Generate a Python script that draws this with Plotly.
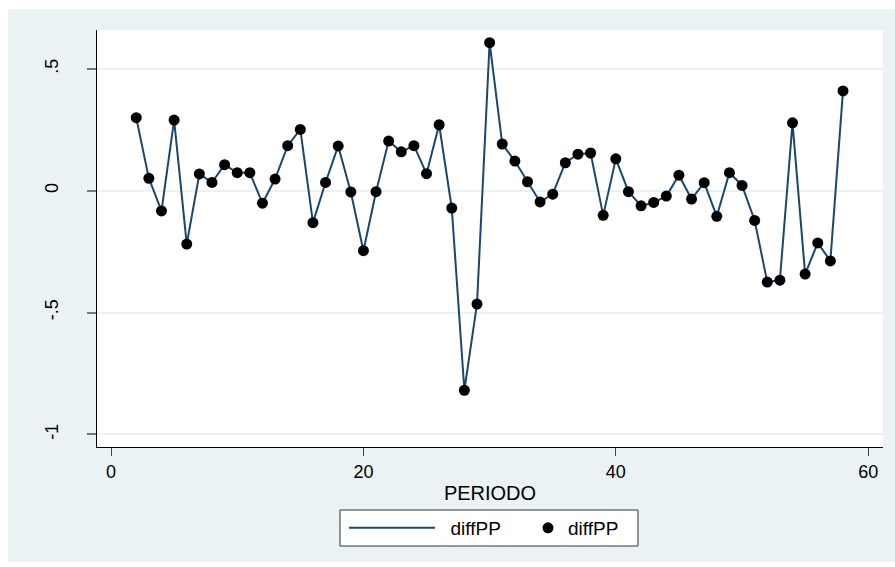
import plotly.graph_objects as go

# Period index and first-differenced series diffPP
periodo = list(range(2, 59))
diffPP = [
    0.300, 0.051, -0.083, 0.290, -0.219, 0.069, 0.034, 0.107, 0.074, 0.074,
    -0.051, 0.048, 0.185, 0.252, -0.131, 0.034, 0.184, -0.005, -0.246, -0.004,
    0.204, 0.160, 0.185, 0.070, 0.271, -0.071, -0.819, -0.465, 0.608, 0.192,
    0.122, 0.037, -0.046, -0.014, 0.115, 0.150, 0.155, -0.101, 0.131, -0.004,
    -0.062, -0.048, -0.022, 0.064, -0.034, 0.033, -0.105, 0.074, 0.022, -0.122,
    -0.375, -0.367, 0.279, -0.342, -0.214, -0.288, 0.410,
]

x_ticks = [0, 20, 40, 60]
y_ticks = [-1, -0.5, 0, 0.5]
y_tick_text = ["-1", "-.5", "0", ".5"]

W, H = 895, 567
ML, MR, MT, MB = 97, 12, 30, 120
PW, PH = W - ML - MR, H - MT - MB

BG = "#EAF2F3"
LINE = "#1A476F"
FONT = "Liberation Sans, Arial, sans-serif"
NBSP = "\u00a0"


def px_x(p):
    return (p - ML) / PW


def px_y(p):
    return (H - MB - p) / PH


fig = go.Figure()
fig.add_trace(go.Scatter(
    x=periodo, y=diffPP, mode="lines", name=NBSP * 2 + "diffPP",
    line=dict(color=LINE, width=2), legend="legend",
))
fig.add_trace(go.Scatter(
    x=periodo, y=diffPP, mode="markers", name="diffPP",
    marker=dict(color="black", size=11, symbol="circle"), legend="legend2",
))

shapes = [
    # white frame outside the graph region
    dict(type="rect", xref="paper", yref="paper", layer="below",
         x0=px_x(0), x1=px_x(8), y0=px_y(H), y1=px_y(0),
         fillcolor="white", line=dict(width=0)),
    dict(type="rect", xref="paper", yref="paper", layer="below",
         x0=px_x(0), x1=px_x(W), y0=px_y(9), y1=px_y(0),
         fillcolor="white", line=dict(width=0)),
    dict(type="rect", xref="paper", yref="paper", layer="below",
         x0=px_x(0), x1=px_x(W), y0=px_y(H), y1=px_y(562),
         fillcolor="white", line=dict(width=0)),
    # legend box holding both key entries
    dict(type="rect", xref="paper", yref="paper", layer="above",
         x0=px_x(340), x1=px_x(638), y0=px_y(546), y1=px_y(510),
         fillcolor="white", line=dict(color="#333333", width=1)),
]

legend_common = dict(
    orientation="h", yanchor="middle", y=px_y(528),
    bgcolor="rgba(0,0,0,0)", borderwidth=0,
    font=dict(size=19), xanchor="left",
)

fig.update_layout(
    width=W, height=H,
    margin=dict(l=ML, r=MR, t=MT, b=MB),
    paper_bgcolor=BG, plot_bgcolor="white",
    font=dict(family=FONT, size=18, color="black"),
    shapes=shapes,
    showlegend=True,
    legend=dict(legend_common, x=px_x(344), itemwidth=86),
    legend2=dict(legend_common, x=px_x(528), itemwidth=30),
    xaxis=dict(
        range=[-1.11, 61.17], tickvals=x_ticks,
        showgrid=False, zeroline=False,
        showline=True, linecolor="black", linewidth=1,
        ticks="outside", ticklen=8, tickcolor="#444444", tickwidth=1,
        title=dict(text="PERIODO", font=dict(size=20), standoff=5),
        tickfont=dict(size=18),
    ),
    yaxis=dict(
        range=[-1.052, 0.660], tickvals=y_ticks, ticktext=y_tick_text,
        showgrid=True, gridcolor=BG, gridwidth=2, zeroline=False,
        showline=True, linecolor="black", linewidth=1,
        ticks="outside", ticklen=9, tickcolor="#777777", tickwidth=2,
        tickangle=-90, tickfont=dict(size=18),
        ticklabelstandoff=22,
    ),
)

fig.write_html("out.html")
